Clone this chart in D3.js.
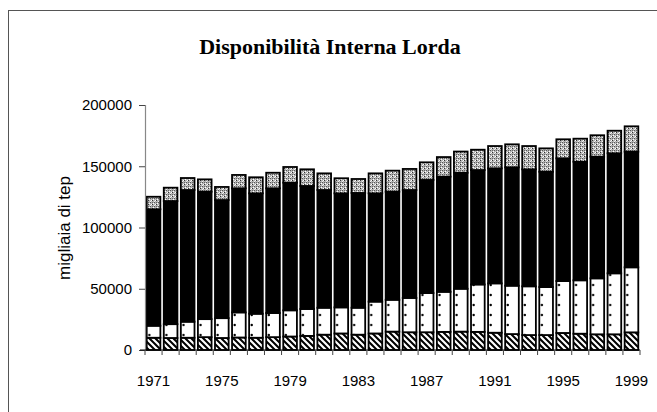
<!DOCTYPE html>
<html lang="it">
<head>
  <meta charset="UTF-8">
  <title>Disponibilità Interna Lorda</title>
  <style>
    html, body { margin: 0; padding: 0; background: #fff; overflow: hidden; }
    svg { display: block; }
  </style>
</head>
<body>
  <svg id="chart" width="657" height="412"></svg>

  <script src="https://d3js.org/d3.v7.min.js"></script>
  <script>
    // anni sull'asse x
    const years = d3.range(1971, 2000).map(String);
    const tickYears = ["1971", "1975", "1979", "1983", "1987", "1991", "1995", "1999"];
    const yTicks = [0, 50000, 100000, 150000, 200000];

    // valori (migliaia di tep), dal basso verso l'alto
    const solidi = [10000, 9800, 10000, 10500, 9800, 10200, 10000, 10500, 11000, 11500,
                    12500, 13500, 12500, 13500, 15000, 14500, 14500, 14800, 15000, 14800,
                    14100, 13000, 12200, 12200, 13900, 13300, 12800, 12800, 14400];
    const gas = [9800, 11300, 13100, 14700, 16200, 20500, 19600, 19700, 21400, 22000,
                 22000, 21300, 22000, 26000, 26000, 28000, 32000, 32700, 35000, 38700,
                 40300, 39500, 39800, 39200, 42400, 43600, 45700, 49800, 53100];
    const petrolio = [95100, 100500, 107500, 104000, 96400, 101300, 98300, 101800, 104200, 100400,
                      96100, 93100, 93700, 88400, 88200, 88100, 92300, 94000, 94700, 93400,
                      93900, 96600, 95500, 94100, 100200, 96800, 99300, 98000, 94400];
    const elettrica = [10200, 10900, 9800, 10100, 10700, 10900, 13100, 12700, 12800, 13600,
                       13600, 12300, 11400, 16300, 17200, 17200, 14400, 16000, 17300, 16600,
                       18200, 18800, 19000, 19100, 15500, 18800, 17500, 18400, 20700];

    const keys = ["solidi", "gas", "petrolio", "elettrica"];
    const rows = years.map((y, i) => ({
      year: y, solidi: solidi[i], gas: gas[i], petrolio: petrolio[i], elettrica: elettrica[i]
    }));

    const svg = d3.select("#chart");

    // cornice esterna
    svg.append("rect")
      .attr("x", 8.5).attr("y", 10.5)
      .attr("width", 680).attr("height", 440)
      .attr("fill", "none").attr("stroke", "#555").attr("stroke-width", 1);

    const x = d3.scaleBand().domain(years).range([145, 640]).paddingInner(0.2).paddingOuter(0.1);
    const y = d3.scaleLinear().domain([0, 200000]).range([350, 105]);

    // --- pattern ---
    const defs = svg.append("defs");
    const step = x.step();
    const x0 = x(years[0]);

    const hatch = defs.append("pattern")
      .attr("id", "hatch").attr("patternUnits", "userSpaceOnUse")
      .attr("width", 6).attr("height", 6);
    hatch.append("rect").attr("width", 6).attr("height", 6).attr("fill", "#000");
    hatch.append("path").attr("d", "M-1,-1 L7,7 M-4,2 L4,10 M2,-4 L10,4")
      .attr("stroke", "#fff").attr("stroke-width", 2.2);

    const dots = defs.append("pattern")
      .attr("id", "dots").attr("patternUnits", "userSpaceOnUse")
      .attr("x", x0).attr("y", 0)
      .attr("width", step).attr("height", 10);
    dots.append("rect").attr("width", step).attr("height", 10).attr("fill", "#fff");
    dots.append("circle").attr("cx", 2.6).attr("cy", 5).attr("r", 1.2).attr("fill", "#000");

    const stip = defs.append("pattern")
      .attr("id", "stip").attr("patternUnits", "userSpaceOnUse")
      .attr("width", 4).attr("height", 4);
    stip.append("rect").attr("width", 4).attr("height", 4).attr("fill", "#b4b4b4");
    [[0, 0, "#333"], [2, 2, "#555"], [3, 0, "#fff"], [1, 3, "#fff"], [2, 1, "#eee"], [0, 2, "#666"]]
      .forEach(([px, py, c]) => stip.append("rect")
        .attr("x", px).attr("y", py).attr("width", 1).attr("height", 1).attr("fill", c));

    const fills = { solidi: "url(#hatch)", gas: "url(#dots)", petrolio: "#000", elettrica: "url(#stip)" };

    // --- barre impilate ---
    const series = d3.stack().keys(keys)(rows);
    svg.append("g")
      .selectAll("g")
      .data(series)
      .join("g")
        .attr("fill", d => fills[d.key])
      .selectAll("rect")
      .data(d => d)
      .join("rect")
        .attr("x", d => x(d.data.year))
        .attr("y", d => y(d[1]))
        .attr("width", x.bandwidth())
        .attr("height", d => y(d[0]) - y(d[1]))
        .attr("stroke", "#000")
        .attr("stroke-width", 1.8);

    // --- assi ---
    const yAxis = svg.append("g")
      .attr("transform", "translate(145,0)")
      .call(d3.axisLeft(y).tickValues(yTicks).tickSize(6).tickPadding(7).tickFormat(d3.format("d")));
    yAxis.select(".domain").attr("stroke", "#888").attr("stroke-width", 1.2);
    yAxis.selectAll(".tick line").attr("stroke", "#444");
    yAxis.selectAll("text")
      .attr("font-family", "Liberation Sans, Arial, sans-serif")
      .attr("font-size", 15).attr("fill", "#000");

    const xg = svg.append("g").attr("transform", "translate(0,350)");
    xg.append("line")
      .attr("x1", 140).attr("x2", x.range()[1])
      .attr("stroke", "#000").attr("stroke-width", 1.2);
    xg.selectAll("line.tk")
      .data(years.concat(["end"]))
      .join("line")
        .attr("class", "tk")
        .attr("x1", (d, i) => x.range()[0] + i * step)
        .attr("x2", (d, i) => x.range()[0] + i * step)
        .attr("y1", 0).attr("y2", 5)
        .attr("stroke", "#444").attr("stroke-width", 1);
    xg.selectAll("text")
      .data(tickYears)
      .join("text")
        .attr("x", d => x(d) + x.bandwidth() / 2)
        .attr("y", 36)
        .attr("text-anchor", "middle")
        .attr("font-family", "Liberation Sans, Arial, sans-serif")
        .attr("font-size", 15)
        .text(d => d);

    // titoli
    svg.append("text")
      .attr("x", 330).attr("y", 54)
      .attr("text-anchor", "middle")
      .attr("font-family", "Liberation Serif, Times New Roman, serif")
      .attr("font-weight", "bold")
      .attr("font-size", 22)
      .text("Disponibilità Interna Lorda");

    svg.append("text")
      .attr("transform", "translate(70,228) rotate(-90)")
      .attr("text-anchor", "middle")
      .attr("font-family", "Liberation Sans, Arial, sans-serif")
      .attr("font-size", 17)
      .text("migliaia di tep");
  </script>
</body>
</html>
